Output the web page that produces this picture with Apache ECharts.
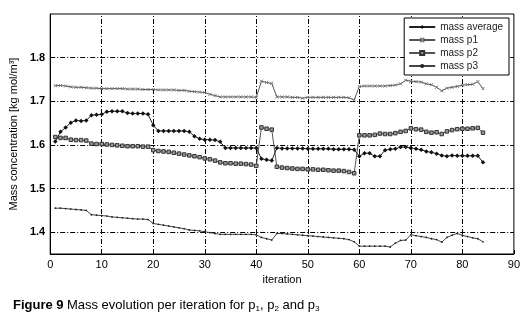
<!DOCTYPE html>
<html><head><meta charset="utf-8">
<script src="https://cdn.jsdelivr.net/npm/echarts@6/dist/echarts.min.js"></script>
<style>html,body{margin:0;padding:0;background:#fff}#c{width:523px;height:332px}</style>
</head><body><div id="c"></div>
<script>
var iterations = [];
for (var i = 1; i <= 84; i++) iterations.push(i);
var massAverage = [1.608,1.630,1.640,1.651,1.656,1.655,1.656,1.668,1.669,1.670,
1.676,1.677,1.677,1.677,1.673,1.672,1.672,1.672,1.670,1.645,
1.632,1.632,1.632,1.632,1.632,1.632,1.630,1.620,1.614,1.612,
1.612,1.611,1.607,1.593,1.593,1.593,1.593,1.593,1.593,1.593,
1.568,1.566,1.564,1.593,1.592,1.592,1.592,1.592,1.592,1.591,
1.591,1.591,1.591,1.591,1.590,1.590,1.590,1.590,1.589,1.574,
1.581,1.581,1.574,1.574,1.588,1.590,1.591,1.595,1.595,1.593,
1.591,1.589,1.585,1.583,1.580,1.576,1.574,1.576,1.575,1.575,
1.575,1.575,1.575,1.560];
var massP1 = [1.736,1.736,1.735,1.733,1.732,1.732,1.731,1.730,1.730,1.729,
1.729,1.729,1.729,1.729,1.728,1.728,1.728,1.727,1.727,1.727,
1.726,1.726,1.726,1.726,1.725,1.725,1.723,1.722,1.721,1.720,
1.716,1.713,1.710,1.710,1.710,1.710,1.710,1.710,1.710,1.709,
1.746,1.743,1.741,1.710,1.710,1.710,1.709,1.709,1.707,1.709,
1.709,1.709,1.709,1.709,1.709,1.709,1.709,1.708,1.703,1.734,
1.735,1.735,1.735,1.735,1.735,1.736,1.737,1.740,1.748,1.746,
1.745,1.744,1.740,1.738,1.732,1.724,1.730,1.732,1.734,1.737,
1.738,1.739,1.745,1.729];
var massP2 = [1.618,1.616,1.616,1.612,1.611,1.611,1.610,1.603,1.602,1.602,
1.601,1.600,1.599,1.598,1.597,1.597,1.597,1.596,1.596,1.588,
1.586,1.585,1.584,1.582,1.580,1.578,1.576,1.574,1.572,1.569,
1.567,1.564,1.560,1.558,1.558,1.557,1.557,1.556,1.555,1.552,
1.640,1.637,1.635,1.550,1.548,1.547,1.546,1.545,1.545,1.544,
1.544,1.543,1.543,1.542,1.541,1.541,1.540,1.538,1.535,1.622,
1.622,1.622,1.623,1.626,1.625,1.625,1.627,1.630,1.632,1.638,
1.636,1.635,1.630,1.628,1.629,1.625,1.631,1.634,1.636,1.637,
1.637,1.638,1.639,1.628];
var massP3 = [1.455,1.455,1.454,1.453,1.452,1.451,1.450,1.440,1.439,1.438,
1.437,1.435,1.434,1.433,1.432,1.431,1.430,1.430,1.429,1.420,
1.418,1.416,1.414,1.412,1.410,1.408,1.405,1.404,1.403,1.401,
1.399,1.397,1.395,1.395,1.395,1.395,1.395,1.395,1.395,1.394,
1.388,1.385,1.382,1.397,1.397,1.396,1.395,1.394,1.393,1.392,
1.391,1.390,1.389,1.388,1.387,1.386,1.385,1.383,1.378,1.368,
1.368,1.368,1.368,1.368,1.368,1.366,1.375,1.381,1.382,1.394,
1.392,1.390,1.388,1.385,1.383,1.377,1.388,1.393,1.397,1.393,
1.390,1.387,1.385,1.378];
var seriesNames = ['mass average','mass p1','mass p2','mass p3'];
var xGridValues = [10,20,30,40,50,60,70,80];
var yGridValues = [1.4,1.5,1.6,1.7,1.8];

function pairs(arr){ return arr.map(function(v,k){ return [iterations[k], v]; }); }
var gridStyle = {color:'#000', width:1, type:[5,2,1,2]};
var markLines = xGridValues.map(function(v){ return {xAxis:v}; })
  .concat(yGridValues.map(function(v){ return {yAxis:v}; }));

var chart = echarts.init(document.getElementById('c'), null, {renderer:'canvas'});
var font = 'Liberation Sans, Arial, sans-serif';
chart.setOption({
  animation:false,
  backgroundColor:'#fff',
  textStyle:{fontFamily:font},
  grid:{left:48, right:9, top:14, bottom:78, show:true, borderColor:'#000', borderWidth:1, backgroundColor:'transparent'},
  legend:{
    orient:'vertical', right:14, top:18, itemWidth:26, itemHeight:5, itemGap:1,
    borderColor:'#000', borderWidth:1, padding:[3,6,3,4], backgroundColor:'#fff',
    textStyle:{fontSize:10, color:'#222', fontFamily:font, lineHeight:12},
    data:seriesNames
  },
  xAxis:{type:'value', min:0, max:90, interval:10,
    axisLine:{show:true, lineStyle:{color:'#000'}},
    axisTick:{show:true, inside:true, length:4, lineStyle:{color:'#000'}},
    splitLine:{show:false},
    axisLabel:{color:'#000', fontSize:11, margin:5},
    name:'iteration', nameLocation:'middle', nameGap:19,
    nameTextStyle:{color:'#000', fontSize:11}
  },
  yAxis:{type:'value', min:1.35, max:1.9, interval:0.05,
    axisLine:{show:true, lineStyle:{color:'#000'}},
    axisTick:{show:false},
    splitLine:{show:false},
    axisLabel:{color:'#000', fontSize:11, margin:5, fontWeight:'bold',
      formatter:function(v){ var r=Math.round(v*100); return (r%10===0 && r>=140 && r<=180) ? (r/100).toFixed(1) : ''; }},
    name:'Mass concentration [kg mol/m\u00b3]', nameLocation:'middle', nameGap:26,
    nameTextStyle:{color:'#000', fontSize:11}
  },
  series:[
    {name:'mass average', type:'line', data:pairs(massAverage), symbol:'diamond', symbolSize:4.5,
     lineStyle:{color:'#222', width:1}, itemStyle:{color:'#111'}, z:5,
     markLine:{silent:true, symbol:'none', label:{show:false}, lineStyle:gridStyle, data:markLines, z:1}},
    {name:'mass p1', type:'line', data:pairs(massP1), symbol:'path://M0,0L10,10M10,0L0,10', symbolSize:3,
     lineStyle:{color:'#555', width:1}, itemStyle:{color:'#777', borderColor:'#777', borderWidth:1}},
    {name:'mass p2', type:'line', data:pairs(massP2), symbol:'rect', symbolSize:3.5,
     lineStyle:{color:'#555', width:1}, itemStyle:{color:'#999', borderColor:'#333', borderWidth:1}},
    {name:'mass p3', type:'line', data:pairs(massP3), symbol:'circle', symbolSize:1.8,
     lineStyle:{color:'#444', width:1}, itemStyle:{color:'#222'}}
  ],
  graphic:[{
    type:'text', left:13, top:298,
    style:{
      text:'{b|Figure 9} {n|Mass evolution per iteration for p}{s|1}{n|, p}{s|2}{n| and p}{s|3}',
      rich:{
        b:{fontFamily:font, fontSize:13, fontWeight:'bold', fill:'#000', lineHeight:16},
        n:{fontFamily:font, fontSize:13, fill:'#000', lineHeight:16},
        s:{fontFamily:font, fontSize:8, fill:'#000', padding:[7,0,0,0], lineHeight:16}
      }
    }
  }]
});
</script></body></html>
